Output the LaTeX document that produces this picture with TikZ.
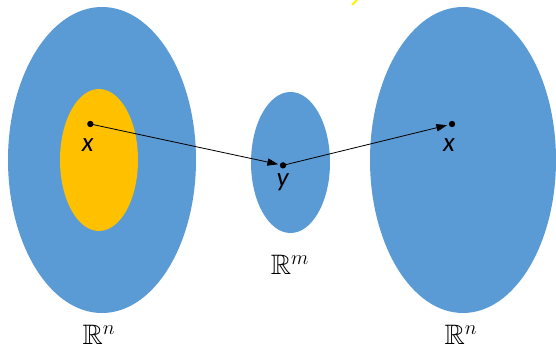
\documentclass[tikz,border=0pt]{standalone}
\usepackage{amsmath}
\usepackage{amssymb}
\usepackage{fontspec}
\setmainfont{Carlito}
\usepackage{tikz}
\usetikzlibrary{shapes.geometric, arrows.meta, positioning}
\definecolor{cBlue}{RGB}{91,155,213}
\definecolor{cYellow}{RGB}{255,192,0}
\tikzset{
	region/.style  ={ellipse, draw=none, fill=cBlue, inner sep=0pt},
	dot/.style     ={circle, fill=black, minimum size=0.19cm, inner sep=0pt},
	ptlabel/.style ={font=\fontsize{23}{27}\selectfont\itshape, inner sep=0pt},
	spacelbl/.style={font=\fontsize{24}{28}\selectfont, inner sep=0pt},
	maparrow/.style={-{Triangle[length=3.2mm, width=2.2mm]}, line width=0.7pt, shorten >=0.5mm},
}
\begin{document}
\begin{tikzpicture}
			\useasboundingbox (0,0) rectangle (16.68,10.38);
			\node[region, minimum width=5.64cm, minimum height=9.18cm] (dom) at (3.06,5.58) {};
			\node[region, fill=cYellow, minimum width=2.34cm, minimum height=4.26cm] (sub) at (2.97,5.58) {};
			\node[region, minimum width=2.37cm, minimum height=4.23cm] (lat) at (8.715,5.505) {};
			\node[region, minimum width=5.58cm, minimum height=9.18cm] (cod) at (13.89,5.58) {};
			\node[dot] (px) at (2.71,6.66) {};
			\node[dot] (py) at (8.49,5.42) {};
			\node[dot] (pz) at (13.56,6.66) {};
			\node[ptlabel] (lx) at (2.63,6.03) {x};
			\node[ptlabel] (ly) at (8.48,4.92) {y};
			\node[ptlabel] (lz) at (13.47,6.03) {x};
			\draw[maparrow] (px.center) -- (py);
			\draw[maparrow] (py.center) -- (pz);
			\node[spacelbl] (rm) at (8.70,2.43) {$\mathbb{R}^m$};
			\node[spacelbl] (rn1) at (2.97,0.33) {$\mathbb{R}^n$};
			\node[spacelbl] (rn2) at (13.83,0.33) {$\mathbb{R}^n$};
			\coordinate (ya) at (10.71,10.38);
			\coordinate (yb) at (10.56,10.23);
			\draw[yellow, line width=1.6pt] (ya) -- (yb);
		\end{tikzpicture}
\end{document}
